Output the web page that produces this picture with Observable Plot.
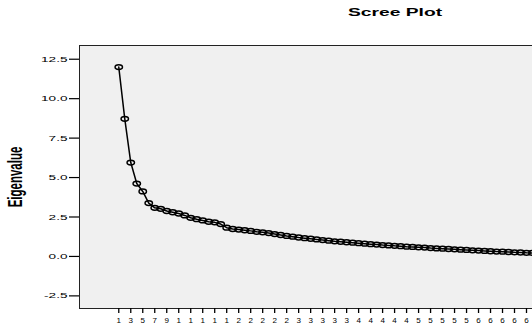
<!DOCTYPE html>
<html>
<head>
<meta charset="utf-8">
<script src="https://cdn.jsdelivr.net/npm/d3@7"></script>
<script src="https://cdn.jsdelivr.net/npm/@observablehq/plot@0.6"></script>
<style>
  html, body { margin: 0; padding: 0; background: #fff; overflow: hidden; width: 532px; height: 324px; }
  #wrap { position: relative; width: 532px; height: 324px; overflow: hidden; }
  #title { position: absolute; left: 395px; top: 12px; transform: translate(-50%, -50%) scaleX(1.75);
           font: bold 11px "Liberation Sans", Arial, sans-serif; color: #000; white-space: nowrap; }
  #ylab { position: absolute; left: 15px; top: 177px; transform: translate(-50%, -50%) scaleX(1.7) rotate(-90deg);
          font: bold 11.5px "Liberation Sans", Arial, sans-serif; color: #000; white-space: nowrap; }
  #chart { position: absolute; left: 0; top: 0; width: 560px; height: 340px; }
  #chart svg { max-width: none !important; width: 560px !important; height: 340px !important; }
</style>
</head>
<body>
<div id="wrap">
  <div id="chart"></div>
  <div id="title">Scree Plot</div>
  <div id="ylab">Eigenvalue</div>
</div>
<script>
const eigenvalues = [
  12.00, 8.72, 5.95, 4.62, 4.12, 3.38, 3.08, 3.02, 2.88, 2.80,
  2.72, 2.60, 2.45, 2.36, 2.28, 2.20, 2.16, 2.05, 1.82, 1.74,
  1.70, 1.66, 1.62, 1.56, 1.53, 1.48, 1.42, 1.36, 1.30, 1.25,
  1.20, 1.16, 1.12, 1.08, 1.04, 1.00, 0.96, 0.93, 0.90, 0.87,
  0.84, 0.81, 0.78, 0.75, 0.72, 0.70, 0.67, 0.65, 0.62, 0.60,
  0.58, 0.56, 0.53, 0.51, 0.49, 0.47, 0.45, 0.43, 0.41, 0.39,
  0.37, 0.35, 0.33, 0.31, 0.30, 0.28, 0.26, 0.25, 0.23, 0.22,
  0.21, 0.20
];
const components = eigenvalues.map((_, i) => i + 1);
const xTicks = components.filter(c => c % 2 === 1);
const yTicks = [-2.5, 0, 2.5, 5, 7.5, 10, 12.5];

const data = components.map((c, i) => ({component: c, eigenvalue: eigenvalues[i]}));

const ellipse = {
  draw(ctx) {
    const rx = 3.7, ry = 2.4, k = 0.5523;
    ctx.moveTo(rx, 0);
    ctx.bezierCurveTo(rx, ry * k, rx * k, ry, 0, ry);
    ctx.bezierCurveTo(-rx * k, ry, -rx, ry * k, -rx, 0);
    ctx.bezierCurveTo(-rx, -ry * k, -rx * k, -ry, 0, -ry);
    ctx.bezierCurveTo(rx * k, -ry, rx, -ry * k, rx, 0);
    ctx.closePath();
  }
};

const chart = Plot.plot({
  width: 560,
  height: 340,
  marginLeft: 79,
  marginRight: 0,
  marginTop: 45,
  marginBottom: 32,
  style: {fontFamily: "'Liberation Sans', Arial, sans-serif", color: "#000", background: "transparent", overflow: "visible"},
  x: {type: "linear", domain: [-5.55, 74.67]},
  y: {domain: [-3.3, 13.37]},
  marks: [
    Plot.frame({fill: "#f0f0f0", stroke: "#222", strokeWidth: 1}),
    Plot.axisX({
      ticks: xTicks, tickSize: 5, tickPadding: 0, fontSize: 8, lineHeight: 1.6,
      strokeWidth: 1.3, label: null,
      tickFormat: d => String(d).split("").join("\n")
    }),
    Plot.axisY({
      ticks: yTicks, tickSize: 10, tickPadding: 2, fontSize: 8,
      strokeWidth: 1.2, label: null,
      tickFormat: d => d.toFixed(1)
    }),
    Plot.line(data, {x: "component", y: "eigenvalue", stroke: "#000", strokeWidth: 1.5}),
    Plot.dot(data, {x: "component", y: "eigenvalue", symbol: ellipse, stroke: "#000", strokeWidth: 1.5, fill: "none"})
  ]
});

chart.querySelectorAll('g[aria-label="y-axis tick label"] text').forEach(t => {
  const tr = t.getAttribute("transform");
  if (tr) t.setAttribute("transform", tr + " scale(1.7,1)");
});

document.getElementById("chart").appendChild(chart);
</script>
</body>
</html>
